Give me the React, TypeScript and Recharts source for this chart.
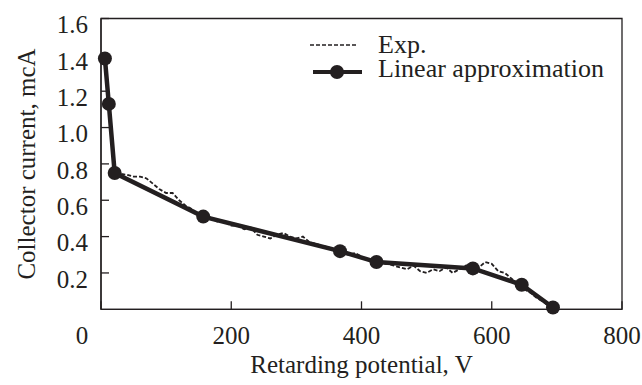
import React from 'react';
import { LineChart, Line, XAxis, YAxis, ReferenceArea } from 'recharts';

const expV = [5, 10, 15, 20, 25, 30, 40, 50, 60, 70, 80, 90, 100, 110, 120, 130, 140, 150, 160, 170, 180, 190, 200, 210, 220, 230, 240, 250, 260, 270, 280, 290, 300, 310, 320, 330, 340, 350, 360, 370, 380, 390, 400, 410, 420, 430, 440, 450, 460, 470, 480, 490, 500, 510, 520, 530, 540, 550, 560, 570, 580, 590, 600, 610, 620, 630, 640, 650, 660, 670, 680, 690];
const expI = [1.38, 1.2, 1.0, 0.78, 0.75, 0.745, 0.74, 0.73, 0.73, 0.72, 0.69, 0.66, 0.64, 0.64, 0.6, 0.57, 0.55, 0.52, 0.52, 0.5, 0.48, 0.48, 0.46, 0.46, 0.44, 0.45, 0.41, 0.4, 0.39, 0.41, 0.42, 0.4, 0.39, 0.4, 0.37, 0.36, 0.35, 0.34, 0.33, 0.31, 0.3, 0.31, 0.29, 0.27, 0.26, 0.25, 0.25, 0.24, 0.23, 0.22, 0.24, 0.21, 0.2, 0.22, 0.21, 0.23, 0.2, 0.22, 0.24, 0.25, 0.23, 0.26, 0.25, 0.21, 0.2, 0.17, 0.14, 0.11, 0.09, 0.06, 0.04, 0.01];

const linV = [6, 12, 21, 157, 367, 423, 571, 646, 694];
const linI = [1.38, 1.13, 0.75, 0.51, 0.32, 0.26, 0.225, 0.135, 0.01];

const xTicks = [0, 200, 400, 600, 800];
const yTicks = [0.2, 0.4, 0.6, 0.8, 1.0, 1.2, 1.4, 1.6];

const expData = expV.map((v, i) => ({ v, i: expI[i] }));
const linData = linV.map((v, i) => ({ v, i: linI[i] }));

const INK = '#231f20';
const FONT = '"Liberation Serif", "Times New Roman", serif';
const FS = 25;

const XTick = (props: any) => {
  const { x, y, payload } = props;
  const xx = payload.value === 0 ? x - 19 : x;
  return (
    <text x={xx} y={y + 19} textAnchor="middle" style={{ fontFamily: FONT, fontSize: FS }} fill={INK}>
      {payload.value}
    </text>
  );
};

const YTick = (props: any) => {
  const { x, y, payload } = props;
  return (
    <text x={x} y={y + 6} dy="0.355em" textAnchor="end" style={{ fontFamily: FONT, fontSize: FS }} fill={INK}>
      {Number(payload.value).toFixed(1)}
    </text>
  );
};

const LegendBox = () => (
  <svg width={330} height={70} style={{ display: 'block', position: 'absolute', left: 300, top: 20 }}>
    <line x1={10} y1={25} x2={58} y2={25} stroke={INK} strokeWidth={1.5} strokeDasharray="4 2" />
    <text x={78} y={33} style={{ fontFamily: FONT, fontSize: 26 }} fill={INK}>Exp.</text>
    <line x1={13} y1={52} x2={62} y2={52} stroke={INK} strokeWidth={4} />
    <circle cx={37} cy={52} r={7} fill={INK} />
    <text x={78} y={57} style={{ fontFamily: FONT, fontSize: 26 }} fill={INK}>Linear approximation</text>
  </svg>
);

export default function App() {
  return (
    <div style={{ position: 'relative', width: 642, height: 385 }}>
      <style>{'html,body{margin:0;padding:0;overflow:hidden;}'}</style>
      <LineChart width={642} height={385} margin={{ top: 18.5, right: 20, left: 21, bottom: 25.7 }}>
        <XAxis
          dataKey="v"
          type="number"
          domain={[0, 800]}
          ticks={xTicks}
          tickSize={-8}
          tickMargin={24}
          height={50}
          stroke={INK}
          strokeWidth={1.3}
          tick={<XTick />}
          allowDuplicatedCategory={false}
          label={{
            content: (p: any) => {
              const vb = p.viewBox || {};
              return (
                <text x={vb.x + vb.width / 2} y={vb.y + 64} textAnchor="middle" style={{ fontFamily: FONT, fontSize: FS }} fill={INK}>
                  Retarding potential, V
                </text>
              );
            },
          }}
        />
        <YAxis
          type="number"
          domain={[0, 1.6]}
          ticks={yTicks}
          tickSize={-8}
          tickMargin={21}
          width={80}
          stroke={INK}
          strokeWidth={1.3}
          tick={<YTick />}
          label={{
            content: () => {
              const cx = 26;
              const cy = 164;
              return (
                <text x={cx} y={cy} transform={`rotate(-90 ${cx} ${cy})`} textAnchor="middle" dominantBaseline="central" style={{ fontFamily: FONT, fontSize: FS }} fill={INK}>
                  Collector current, mcA
                </text>
              );
            },
          }}
        />
        <ReferenceArea x1={0} x2={800} y1={0} y2={1.6} fill="none" stroke={INK} strokeWidth={1.3} ifOverflow="extendDomain" />
        <Line
          data={expData}
          dataKey="i"
          type="linear"
          stroke={INK}
          strokeWidth={1.8}
          strokeDasharray="4 2"
          dot={false}
          isAnimationActive={false}
        />
        <Line
          data={linData}
          dataKey="i"
          type="linear"
          stroke={INK}
          strokeWidth={4.5}
          dot={{ r: 7, fill: INK, stroke: INK, strokeWidth: 0 }}
          isAnimationActive={false}
        />
      </LineChart>
      <LegendBox />
    </div>
  );
}
